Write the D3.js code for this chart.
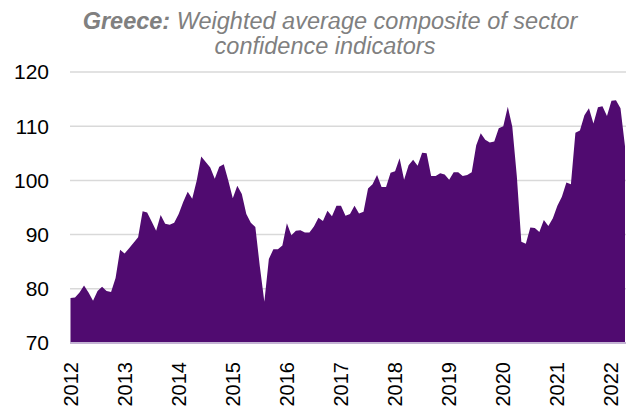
<!DOCTYPE html>
<html>
<head>
<meta charset="utf-8">
<script src="https://cdn.jsdelivr.net/npm/d3@7"></script>
<style>
  body { margin: 0; background: #fff; }
  text { font-family: "Liberation Sans", Arial, sans-serif; }
</style>
</head>
<body>
<div id="chart"></div>
<script>
// monthly values, Jan 2012 - Apr 2022
var values2012 = [78.3, 78.4, 79.3, 80.6, 79.3, 77.8, 79.6, 80.4, 79.6, 79.4, 82.0, 87.2];
var values2013 = [86.5, 87.5, 88.5, 89.5, 94.3, 94.1, 92.4, 90.7, 93.6, 92.0, 91.8, 92.2];
var values2014 = [93.8, 96.0, 97.9, 96.6, 100.0, 104.4, 103.4, 102.4, 100.3, 102.5, 103.0, 100.0];
var values2015 = [96.7, 99.0, 97.5, 93.8, 92.2, 91.4, 84.1, 77.6, 85.5, 87.3, 87.3, 88.0];
var values2016 = [92.1, 89.9, 90.7, 90.8, 90.4, 90.4, 91.5, 93.1, 92.5, 94.4, 93.4, 95.3];
var values2017 = [95.3, 93.5, 93.8, 95.3, 93.9, 94.2, 98.5, 99.3, 101.0, 98.8, 98.8, 101.4];
var values2018 = [101.7, 104.1, 100.1, 102.8, 103.8, 102.7, 105.1, 105.0, 100.8, 100.8, 101.3, 101.1];
var values2019 = [100.1, 101.5, 101.5, 100.8, 101.0, 101.5, 106.5, 108.7, 107.5, 107.0, 107.2, 109.6];
var values2020 = [110.0, 113.6, 109.9, 100.8, 88.7, 88.3, 91.3, 91.2, 90.5, 92.7, 91.6, 93.0];
var values2021 = [95.3, 97.0, 99.6, 99.3, 108.8, 109.2, 112.0, 113.3, 110.5, 113.5, 113.7, 111.9];
var values2022 = [114.7, 114.8, 113.3, 106.3];

var years = ["2012", "2013", "2014", "2015", "2016", "2017", "2018", "2019", "2020", "2021", "2022"];
var yTicks = [70, 80, 90, 100, 110, 120];

var data = [].concat(values2012, values2013, values2014, values2015, values2016,
  values2017, values2018, values2019, values2020, values2021, values2022);

var width = 626, height = 409;
var plotLeft = 70.5, plotRight = 625, plotTop = 72, plotBottom = 343;

var svg = d3.select("#chart")
  .append("svg")
    .attr("width", width)
    .attr("height", height);

var x = d3.scaleLinear()
  .domain([0, data.length - 1])
  .range([plotLeft, plotRight]);

var y = d3.scaleLinear()
  .domain([70, 120])
  .range([plotBottom, plotTop]);

// title
var title = svg.append("text")
  .attr("text-anchor", "middle")
  .attr("fill", "#808080")
  .style("font-size", "23.5px")
  .style("font-style", "italic");
title.append("tspan")
  .attr("x", 330).attr("y", 29)
  .style("font-weight", "bold")
  .text("Greece:");
title.append("tspan")
  .text(" Weighted average composite of sector");
title.append("tspan")
  .attr("x", 325).attr("y", 54)
  .text("confidence indicators");

// gridlines
svg.append("g")
  .selectAll("line")
  .data(yTicks.slice(1))
  .enter()
  .append("line")
    .attr("x1", 70)
    .attr("x2", width)
    .attr("y1", function(d) { return y(d); })
    .attr("y2", function(d) { return y(d); })
    .attr("stroke", "#d9d9d9")
    .attr("stroke-width", 1.5);

// area
var area = d3.area()
  .x(function(d, i) { return x(i); })
  .y0(y(70))
  .y1(function(d) { return y(d); });

svg.append("path")
  .datum(data)
  .attr("d", area)
  .attr("fill", "#500b70");

// bottom axis line
svg.append("line")
  .attr("x1", 70)
  .attr("x2", width)
  .attr("y1", y(70))
  .attr("y2", y(70))
  .attr("stroke", "#c4b4d4")
  .attr("stroke-width", 2);

// y labels
svg.append("g")
  .selectAll("text")
  .data(yTicks)
  .enter()
  .append("text")
    .attr("x", 49)
    .attr("y", function(d) { return y(d); })
    .attr("dy", "0.35em")
    .attr("text-anchor", "end")
    .attr("fill", "#000")
    .style("font-size", "21px")
    .text(function(d) { return d; });

// x labels (January of each year)
svg.append("g")
  .selectAll("text")
  .data(years)
  .enter()
  .append("text")
    .attr("transform", function(d, i) {
      return "translate(" + x(i * 12) + "," + 362 + ") rotate(-90)";
    })
    .attr("dy", "0.35em")
    .attr("text-anchor", "end")
    .attr("fill", "#000")
    .style("font-size", "20px")
    .text(function(d) { return d; });
</script>
</body>
</html>
